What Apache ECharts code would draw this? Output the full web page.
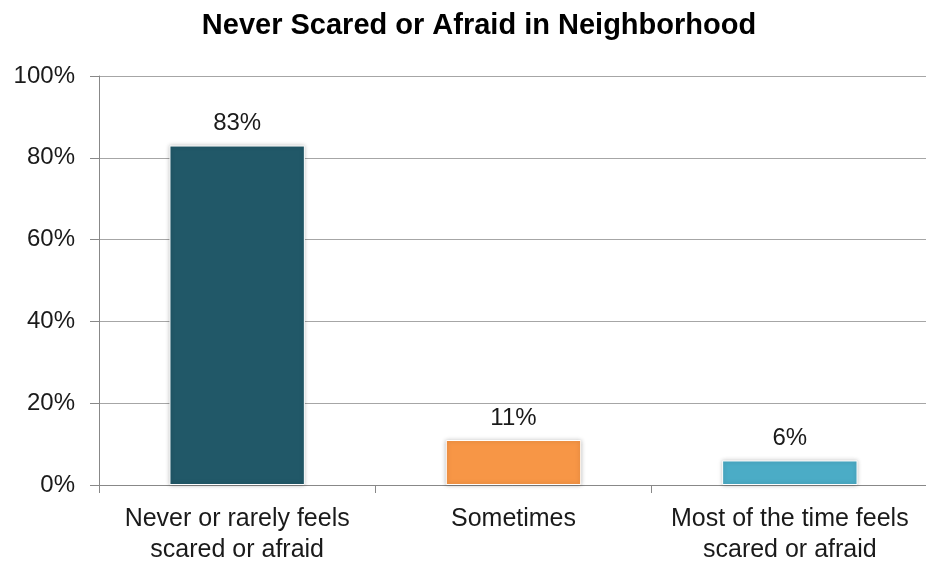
<!DOCTYPE html>
<html>
<head>
<meta charset="utf-8">
<script src="https://cdn.jsdelivr.net/npm/echarts@6/dist/echarts.min.js"></script>
<style>html,body{margin:0;padding:0;background:#fff}#c{width:926px;height:563px}</style>
</head>
<body>
<div id="c"></div>
<script>
const title = 'Never Scared or Afraid in Neighborhood';
const categories = ['Never or rarely feels\nscared or afraid', 'Sometimes', 'Most of the time feels\nscared or afraid'];
const values = [83, 11, 6];
const colors = ['#215868', '#F79646', '#4BACC6'];
const yTicks = [0, 20, 40, 60, 80, 100];

const chart = echarts.init(document.getElementById('c'));
chart.setOption({
  backgroundColor: '#fff',
  animation: false,
  title: {
    text: title,
    left: 474, textAlign: 'center', top: 6,
    textStyle: { fontFamily: 'Liberation Sans', fontWeight: 'bold', fontSize: 29, color: '#000' }
  },
  grid: { left: 99, right: -2, top: 76, bottom: 78, containLabel: false, outerBoundsMode: 'none' },
  xAxis: {
    type: 'category',
    data: categories,
    axisLine: { lineStyle: { color: '#888', width: 1 } },
    axisTick: { show: true, interval: 0, length: 8, lineStyle: { color: '#888' } },
    axisLabel: { interval: 0, hideOverlap: false, fontFamily: 'Liberation Sans', fontSize: 25, color: '#1a1a1a', margin: 19, lineHeight: 31 }
  },
  yAxis: {
    type: 'value', min: 0, max: 100, interval: 20,
    axisLine: { show: true, lineStyle: { color: '#888', width: 1 } },
    axisTick: { show: true, length: 9, lineStyle: { color: '#888' } },
    axisLabel: { fontFamily: 'Liberation Sans', fontSize: 24, color: '#1a1a1a', margin: 24,
      formatter: v => yTicks.includes(v) ? v + '%' : '' },
    splitLine: { lineStyle: { color: '#a6a6a6', width: 1 } }
  },
  series: [{
    type: 'bar',
    barWidth: '49%',
    data: values.map((v, i) => ({ value: v, itemStyle: { color: colors[i] } })),
    itemStyle: { borderColor: '#fff', borderWidth: 1, shadowColor: 'rgba(0,0,0,0.25)', shadowBlur: 4 },
    label: { show: true, position: 'top', distance: 10, formatter: '{c}%',
      fontFamily: 'Liberation Sans', fontSize: 24, color: '#1a1a1a' }
  }]
});
</script>
</body>
</html>
